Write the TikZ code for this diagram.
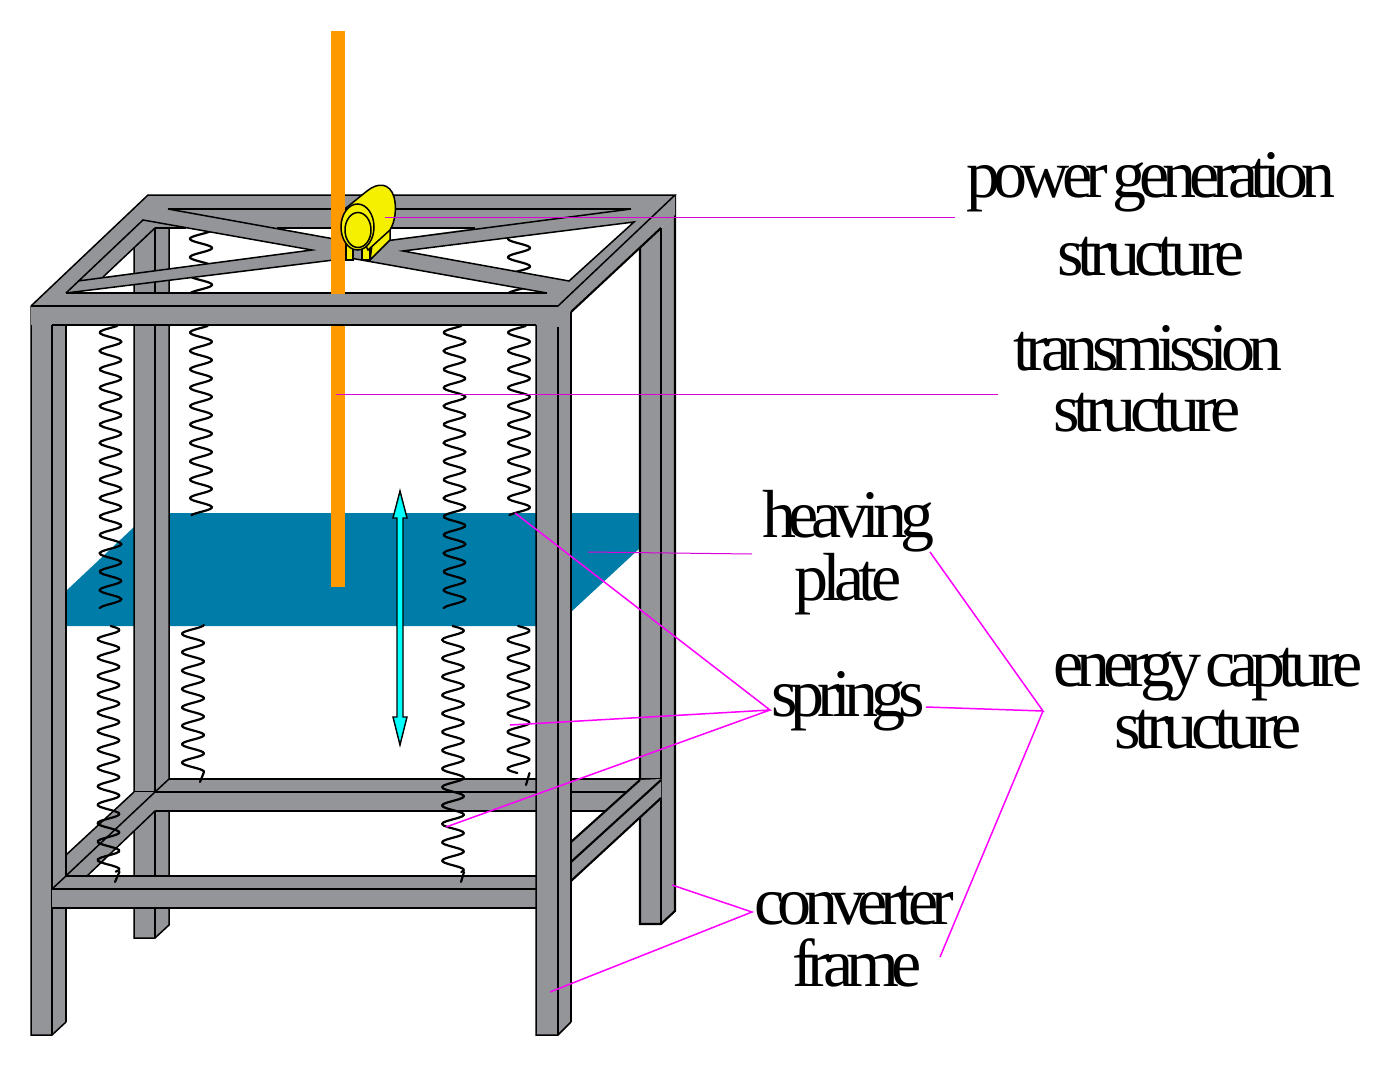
\documentclass[tikz,border=0pt]{standalone}
\usepackage{fontspec}
\newfontfamily\lab[LetterSpace=-10.6,WordSpace=0.5]{Liberation Serif}
\newfontfamily\labmid[LetterSpace=-10]{Liberation Serif}
\newfontfamily\labwide[LetterSpace=-9.2]{Liberation Serif}
\definecolor{steel}{RGB}{147,149,152}
\definecolor{plate}{RGB}{0,124,168}
\definecolor{rod}{RGB}{255,153,0}
\definecolor{yel}{RGB}{245,240,0}
\definecolor{lead}{RGB}{255,0,255}
\definecolor{aqua}{RGB}{0,255,255}
\tikzset{
  edge/.style={black,line width=1.5pt,line join=miter},
  heavy/.style={black,line width=2.1pt},
  coil/.style={black,line width=2.2pt,line cap=round,line join=round},
  leadline/.style={lead,line width=1.5pt},
  fine/.style={lead!85!black,line width=1pt},
  lbl/.style={inner sep=0pt,anchor=base,font=\lab\fontsize{68}{68}\selectfont},
  lblm/.style={inner sep=0pt,anchor=base,font=\labmid\fontsize{68}{68}\selectfont},
  lblw/.style={inner sep=0pt,anchor=base,font=\labwide\fontsize{68}{68}\selectfont}
}
% centre, y of a right peak, start y, end y
\newcommand\coilseg[4]{%
  \draw[coil] plot[domain=#3:#4,samples=160,variable=\t]
   ({#1+11*cos(19.565*(\t-#2))},\t);}
\begin{document}
\begin{tikzpicture}[x=1pt,y=-1pt]
\useasboundingbox (0,0) rectangle (1392,1065);
% heaving plate
\fill[plate] (66,626)--(66,591)--(134,527)--(134,513)--(640,513)--(640,548)--(571,612)--(536,626)--cycle;
% back legs
\fill[steel] (134,248)--(155,228)--(169,228)--(169,925)--(155,938)--(134,938)--cycle;
\fill[steel] (640,248)--(661,228)--(675,215)--(675,911)--(661,924)--(640,924)--cycle;
\draw[edge] (134,248)--(134,938)--(155,938)--(169,925)--(169,228);
\draw[edge] (155,228)--(155,938);
\draw[heavy] (640,248)--(640,924)--(661,924)--(675,911)--(675,195);
\draw[heavy] (661,228)--(661,924);
% rear upper springs
\coilseg{201}{248}{228}{293}
\coilseg{201}{341.7}{326}{515}
\coilseg{519}{248}{238}{293}
\coilseg{519}{341.7}{326}{515}
% back lower bar
\fill[steel] (155,792)--(169,779)--(661,779)--(661,800)--(620,811)--(155,811)--cycle;
\draw[heavy] (169,779)--(661,779);
\draw[edge] (134,792)--(630,792);
\draw[edge] (155,811)--(606,811);
\draw[edge] (155,792)--(169,779);
% right lower side bar
\fill[steel] (571,842)--(640,780)--(661,779)--(661,798)--(571,881)--cycle;
\draw[heavy] (571,842)--(640,780) (571,881)--(661,798) (571,862)--(661,780);
% left lower side bar
\fill[steel] (66,855)--(134,792)--(155,792)--(155,811)--(87,876)--(66,890)--cycle;
\draw[edge] (66,855)--(134,792) (52,889)--(155,792) (87,876)--(155,811);
% rear lower springs
\coilseg{193}{643}{625}{772}
\draw[coil] (204,772)--(200,782);
\coilseg{518.5}{630.7}{626}{773}
\draw[coil] (529.5,773)--(526,785);
% top face with holes
\fill[steel,even odd rule]
  (31,306)--(148,195)--(675,195)--(558,306)--cycle
  (277,228)--(475,228)--(362,244)--cycle
  (155,228)--(186,228)--(312,250)--(103,277)--cycle
  (403,251)--(634,222)--(569,281)--cycle
  (66,293)--(350,258)--(547,293)--cycle;
\fill[steel] (558,306)--(675,195)--(675,215)--(661,228)--(571,312)--(571,330)--(558,330)--cycle;
\draw[edge] (31,306)--(148,195)--(675,195)--(558,306);
\draw[heavy] (168,209)--(631,209);
\draw[edge] (168,209)--(362,244)--(631,209);
\draw[edge] (277,228)--(475,228);
\draw[edge] (155,228)--(186,228);
\draw[edge] (66,293)--(143,220)--(312,250)--(78,281);
\draw[edge] (155,228)--(103,277);
\draw[edge] (66,293)--(350,258)--(547,293);
\draw[heavy] (66,293)--(547,293);
\draw[edge] (403,251)--(634,222)--(569,281)--cycle;
\draw[heavy] (661,228)--(571,312);
% rod
\fill[rod] (331,31) rectangle (345,294);
\fill[rod] (331,323) rectangle (345,587);
% front left leg
\fill[steel] (31,306)--(52,306)--(66,325)--(66,1022)--(52,1035)--(31,1035)--cycle;
\draw[edge] (31,306)--(31,1035)--(52,1035)--(66,1022);
\draw[edge] (52,325)--(52,1035);
\draw[heavy] (66,325)--(66,1022);
% front lower bar
\fill[steel] (52,889)--(66,876)--(536,876)--(536,908)--(52,908)--cycle;
\draw[heavy] (66,876)--(536,876);
\draw[edge] (52,889)--(536,889);
\draw[edge] (52,908)--(536,908);
\draw[edge] (52,889)--(66,876);
% front right leg and top front bar
\fill[steel] (536,320)--(571,312)--(571,1022)--(558,1035)--(536,1035)--cycle;
\draw[edge] (536,325)--(536,1035)--(558,1035)--(571,1022);
\draw[edge] (558,327)--(558,1035);
\draw[heavy] (571,312)--(571,1022);
\fill[steel] (31,306) rectangle (558,325);
\draw[edge] (31,306)--(558,306);
\draw[edge] (52,325)--(536,325);
% front springs
\coilseg{110.5}{341.7}{326}{608}
\coilseg{108.5}{630}{626}{871.7}
\draw[coil] (119.5,871.7)--(115,882);
\coilseg{454.5}{341.7}{326}{608}
\coilseg{453}{630.7}{626}{872}
\draw[coil] (464,872)--(461,882);
% motion arrow
\draw[black,line width=1.4pt,fill=aqua,line join=miter]
  (400,491)--(407,518)--(403,518)--(403,717)--(407,717)--(400,745)--(393,717)--(397,717)--(397,518)--(393,518)--cycle;
% generator
\draw[edge,fill=yel] (372,245)--(390,228)--(390,240)--(370,260)--cycle;
\draw[edge,fill=yel] (346,244)--(346,260)--(353,260)--(353,244)--cycle;
\draw[edge,fill=yel] (362,244)--(362,260)--(370,260)--(370,244)--cycle;
\draw[edge,fill=yel] (346,208)--(367,191) .. controls (378,182) and (390,183) .. (394,197)
  .. controls (397,208) and (395,222) .. (390,230)--(368,250)--cycle;
\draw[edge,fill=yel] (357.5,227) ellipse [x radius=16.5,y radius=23];
\draw[edge,fill=yel] (358,230) ellipse [x radius=13,y radius=17.5];
% labels
\node[lbl] (power1) at (1151,197) {power generation};
\node[lblw] (power2) at (1151,275) {structure};
\node[lblm] (trans1) at (1148,370) {transmission};
\node[lblw] (trans2) at (1147,431) {structure};
\node[lbl] (heav1) at (848,537) {heaving};
\node[lblw] (heav2) at (848,600) {plate};
\node[lbl] (spr) at (848,716) {springs};
\node[lbl] (en1) at (1208,686) {energy capture};
\node[lblw] (en2) at (1208,748) {structure};
\node[lbl] (conv1) at (854,924) {converter};
\node[lbl] (conv2) at (857,986) {frame};
% leader ends
\coordinate (pA) at (385,217); \coordinate (pB) at (955,217);
\coordinate (tA) at (336,394); \coordinate (tB) at (998,394);
\coordinate (hA) at (588,552); \coordinate (hB) at (752,554);
\coordinate (sHub) at (770,710); \coordinate (s1) at (515,513);
\coordinate (s2) at (510,725); \coordinate (s3) at (446,827);
\coordinate (eHub) at (1043,711); \coordinate (e1) at (930,552);
\coordinate (e2) at (926,707); \coordinate (e3) at (940,957);
\coordinate (cHub) at (752,912); \coordinate (c1) at (672,885); \coordinate (c2) at (550,992);
\draw[fine] (pA)--(pB);
\draw[fine] (tA)--(tB);
\draw[fine] (hA)--(hB);
\draw[leadline] (s1)--(sHub)--(s2) (sHub)--(s3);
\draw[leadline] (e1)--(eHub)--(e2) (eHub)--(e3);
\draw[leadline] (c1)--(cHub)--(c2);
\end{tikzpicture}
\end{document}
